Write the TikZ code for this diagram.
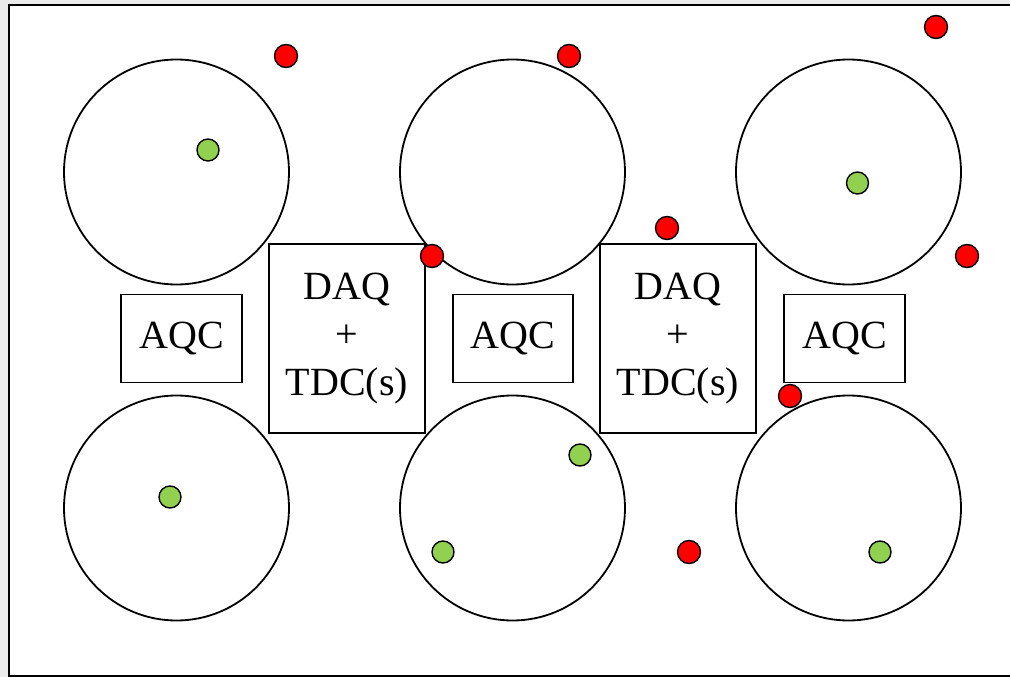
\documentclass[tikz,border=0pt]{standalone}
\usepackage{fontspec}
\setmainfont{Liberation Serif}
\begin{document}
\begin{tikzpicture}[x=1pt,y=-1pt,
  detector/.style={circle,draw=black,line width=1.8pt,fill=white,inner sep=0pt,minimum size=225pt},
  unitbox/.style={rectangle,draw=black,line width=1.8pt,fill=white,inner sep=0pt,align=center,
    font=\fontsize{40}{48}\selectfont},
  hit/.style={circle,draw=black,line width=1.4pt,fill=hitgreen,inner sep=0pt,minimum size=22pt},
  noise/.style={circle,draw=black,line width=1.4pt,fill=red,inner sep=0pt,minimum size=23pt}]
\definecolor{hitgreen}{HTML}{92D050}
\definecolor{pagegrey}{HTML}{EBEBEB}
\useasboundingbox (0,0) rectangle (1010,677);
\clip (0,0) rectangle (1010,677);
% page and frame
\fill[pagegrey] (0,0) rectangle (1010,677);
\draw[line width=2pt,fill=white] (8.5,5) rectangle (1020,676);

% detector discs
\node[detector] (d1) at (176.5,172) {};
\node[detector] (d2) at (512.5,172) {};
\node[detector] (d3) at (848.5,172) {};
\node[detector] (d4) at (176.5,508) {};
\node[detector] (d5) at (512.5,508) {};
\node[detector] (d6) at (848.5,508) {};

% electronics
\node[unitbox,minimum width=121pt,minimum height=88pt] (aqc1) at (181.5,338.5) {AQC};
\node[unitbox,minimum width=120pt,minimum height=88pt] (aqc2) at (513,338.5) {AQC};
\node[unitbox,minimum width=121pt,minimum height=88pt] (aqc3) at (844.5,338.5) {AQC};
\node[unitbox,minimum width=156pt,minimum height=189pt] (daq1) at (347,338.5) {DAQ\\+\\TDC(s)};
\node[unitbox,minimum width=156pt,minimum height=189pt] (daq2) at (678,338.5) {DAQ\\+\\TDC(s)};

% signal hits
\node[hit] (h1) at (208,150) {};
\node[hit] (h2) at (857.5,183) {};
\node[hit] (h3) at (170,497) {};
\node[hit] (h4) at (580,455) {};
\node[hit] (h5) at (443,552) {};
\node[hit] (h6) at (880,552) {};

% background hits
\node[noise] (n1) at (286,56) {};
\node[noise] (n2) at (569,56) {};
\node[noise] (n3) at (936,27) {};
\node[noise] (n4) at (967,256) {};
\node[noise] (n5) at (432,256) {};
\node[noise] (n6) at (667,228) {};
\node[noise] (n7) at (790,396) {};
\node[noise] (n8) at (689,552) {};
\end{tikzpicture}
\end{document}
